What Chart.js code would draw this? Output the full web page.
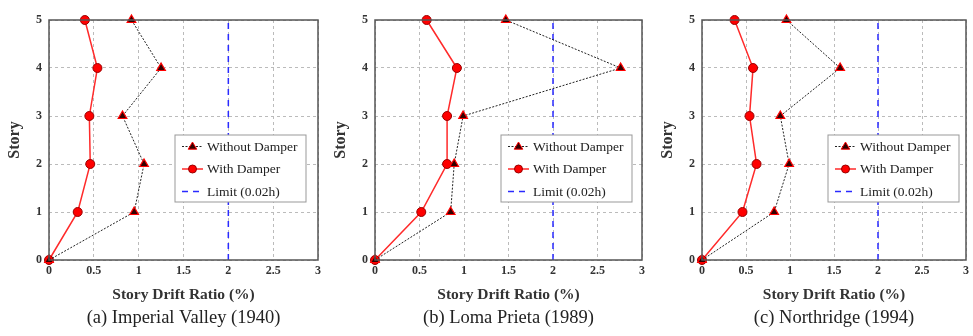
<!DOCTYPE html>
<html>
<head>
<meta charset="utf-8">
<title>Story Drift Ratio</title>
<script src="https://cdn.jsdelivr.net/npm/chart.js@4"></script>
<style>
    body { margin: 0; background: #fff; }
    .panel { position: absolute; top: 0; }
</style>
</head>
<body>
<canvas id="chart-a" class="panel" style="left:0px" width="326" height="336"></canvas>
<canvas id="chart-b" class="panel" style="left:326px" width="324" height="336"></canvas>
<canvas id="chart-c" class="panel" style="left:653px" width="320" height="336"></canvas>

<script>
// story levels (y) and drift ratio ticks (x)
const stories = [0, 1, 2, 3, 4, 5];
const driftTicks = [0, 0.5, 1, 1.5, 2, 2.5, 3];
const driftLimit = 2;

// drift ratio (%) per story, ground to roof
const imperialNoDamper = [0, 0.95, 1.06, 0.82, 1.25, 0.92];
const imperialDamper = [0, 0.32, 0.46, 0.45, 0.54, 0.40];
const lomaNoDamper = [0, 0.85, 0.89, 0.99, 2.76, 1.47];
const lomaDamper = [0, 0.52, 0.81, 0.81, 0.92, 0.58];
const northNoDamper = [0, 0.82, 0.99, 0.89, 1.57, 0.96];
const northDamper = [0, 0.46, 0.62, 0.54, 0.58, 0.37];

const seriesNames = ['Without Damper', 'With Damper', 'Limit (0.02h)'];
const captions = ['(a) Imperial Valley (1940)', '(b) Loma Prieta (1989)', '(c) Northridge (1994)'];

const serif = "'Liberation Serif', 'Times New Roman', serif";

window.onload = function() {
    dibujarPanel('chart-a', imperialNoDamper, imperialDamper, captions[0], 8);
    dibujarPanel('chart-b', lomaNoDamper, lomaDamper, captions[1], 8);
    dibujarPanel('chart-c', northNoDamper, northDamper, captions[2], 0);
};

function toPoints(values) {
    return values.map(function(v, i) { return { x: v, y: stories[i] }; });
}

// box around the plot area
const framePlugin = {
    id: 'frame',
    afterDatasetsDraw: function(chart) {
        const a = chart.chartArea;
        const ctx = chart.ctx;
        ctx.save();
        ctx.strokeStyle = '#555';
        ctx.lineWidth = 1.5;
        ctx.strokeRect(a.left, a.top, a.right - a.left, a.bottom - a.top);
        ctx.restore();
    }
};

function drawMarker(ctx, style, x, y, r) {
    ctx.beginPath();
    if (style === 'triangle') {
        ctx.moveTo(x, y - r);
        ctx.lineTo(x + r * 0.95, y + r * 0.6);
        ctx.lineTo(x - r * 0.95, y + r * 0.6);
        ctx.closePath();
    } else {
        ctx.arc(x, y, r, 0, Math.PI * 2);
    }
    ctx.fill();
    ctx.stroke();
}

// legend box inside the plot, on top of lines and grid
const legendPlugin = {
    id: 'boxLegend',
    afterDraw: function(chart) {
        const a = chart.chartArea;
        const ctx = chart.ctx;
        const bx = a.left + 126, by = a.top + 115, bw = 131, bh = 67;
        ctx.save();
        ctx.fillStyle = '#fff';
        ctx.fillRect(bx, by, bw, bh);
        ctx.strokeStyle = '#999';
        ctx.lineWidth = 1;
        ctx.strokeRect(bx, by, bw, bh);

        chart.data.datasets.forEach(function(ds, i) {
            const y = by + 11.5 + i * 22.5;
            ctx.strokeStyle = ds.borderColor;
            ctx.lineWidth = ds.borderWidth;
            ctx.setLineDash(ds.borderDash || []);
            ctx.beginPath();
            ctx.moveTo(bx + 7, y);
            ctx.lineTo(bx + 28, y);
            ctx.stroke();
            ctx.setLineDash([]);
            if (ds.pointRadius > 0) {
                ctx.fillStyle = ds.pointBackgroundColor;
                ctx.strokeStyle = ds.pointBorderColor;
                ctx.lineWidth = 1;
                drawMarker(ctx, ds.pointStyle, bx + 17.5, y, ds.pointRadius - 0.5);
            }
            ctx.fillStyle = '#222';
            ctx.font = '13.5px ' + serif;
            ctx.textBaseline = 'middle';
            ctx.fillText(ds.label, bx + 32, y + 0.5);
        });
        ctx.restore();
    }
};

function dibujarPanel(id, sinDisipador, conDisipador, caption, padRight) {
    const ctx = document.getElementById(id);

    new Chart(ctx, {
        type: 'scatter',
        data: {
            datasets: [{
                label: seriesNames[0],
                data: toPoints(sinDisipador),
                showLine: true,
                borderColor: '#222',
                borderWidth: 1,
                borderDash: [2, 1.5],
                pointStyle: 'triangle',
                pointRadius: 5,
                pointBackgroundColor: '#300',
                pointBorderColor: '#f00',
                pointBorderWidth: 1.2,
                clip: false
            }, {
                label: seriesNames[1],
                data: toPoints(conDisipador),
                showLine: true,
                borderColor: '#ff2a2a',
                borderWidth: 1.5,
                pointStyle: 'circle',
                pointRadius: 4.5,
                pointBackgroundColor: '#f00',
                pointBorderColor: '#900',
                pointBorderWidth: 1,
                clip: false
            }, {
                label: seriesNames[2],
                data: [{ x: driftLimit, y: stories[0] }, { x: driftLimit, y: stories[stories.length - 1] }],
                showLine: true,
                borderColor: '#2a2aff',
                borderWidth: 1.5,
                borderDash: [6, 5],
                pointRadius: 0
            }]
        },
        options: {
            responsive: false,
            animation: false,
            layout: { padding: { top: 20, right: padRight, left: 0, bottom: 0 } },
            plugins: {
                legend: { display: false },
                tooltip: { enabled: false },
                title: {
                    display: true,
                    position: 'bottom',
                    fullSize: false,
                    text: caption,
                    color: '#222',
                    font: { family: serif, size: 18.5, weight: 'normal' },
                    padding: { top: 2, bottom: 7 }
                }
            },
            scales: {
                x: {
                    type: 'linear',
                    min: 0,
                    max: 3,
                    afterBuildTicks: function(s) { s.ticks = driftTicks.map(function(v) { return { value: v }; }); },
                    afterFit: function(s) { s.height = 44.8; },
                    grid: { color: '#bbb', lineWidth: 1, drawTicks: false },
                    border: { display: false, dash: [3, 3] },
                    ticks: {
                        color: '#333',
                        padding: 4,
                        maxRotation: 0,
                        font: { family: serif, size: 12, weight: 'bold' },
                        callback: function(v) { return String(v); }
                    },
                    title: {
                        display: true,
                        text: 'Story Drift Ratio (%)',
                        color: '#333',
                        font: { family: serif, size: 15.5, weight: 'bold' },
                        padding: { top: 2, bottom: 0.5 }
                    }
                },
                y: {
                    type: 'linear',
                    min: 0,
                    max: 5,
                    afterBuildTicks: function(s) { s.ticks = stories.map(function(v) { return { value: v }; }); },
                    afterFit: function(s) { s.width = 49; },
                    grid: { color: '#bbb', lineWidth: 1, drawTicks: false },
                    border: { display: false, dash: [3, 3] },
                    ticks: {
                        color: '#333',
                        padding: 7,
                        font: { family: serif, size: 12, weight: 'bold' },
                        callback: function(v) { return String(v); }
                    },
                    title: {
                        display: true,
                        text: 'Story',
                        color: '#333',
                        font: { family: serif, size: 16, weight: 'bold' },
                        padding: { top: 5.5, bottom: 0 }
                    }
                }
            }
        },
        plugins: [framePlugin, legendPlugin]
    });
}
</script>
</body>
</html>
